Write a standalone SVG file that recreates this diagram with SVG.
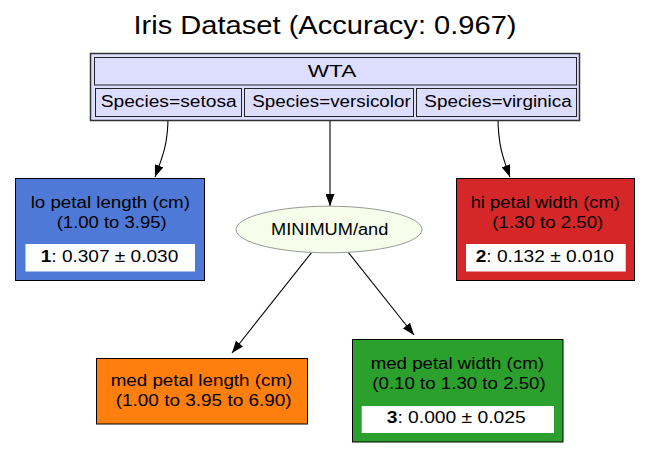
<svg xmlns="http://www.w3.org/2000/svg" width="651" height="453" viewBox="0 0 651 453">
<style>
text{font-family:"Liberation Sans",Arial,sans-serif;fill:#000}
.t{font-size:16px;text-anchor:middle}
.box{stroke:#000;stroke-width:1}
.cell{fill:#ddddff;stroke:#222;stroke-width:1}
.edge{fill:none;stroke:#000;stroke-width:1.1}
.wb{fill:#fff;stroke:none}
</style>
<defs>
<marker id="ah" markerUnits="userSpaceOnUse" markerWidth="12" markerHeight="9" refX="12" refY="4.5" orient="auto">
<path d="M0,0 L12,4.5 L0,9 z" fill="#000"/>
</marker>
</defs>
<rect x="0" y="0" width="651" height="453" fill="#fff"/>
<text x="325" y="34" style="font-size:26px;text-anchor:middle" textLength="383" lengthAdjust="spacingAndGlyphs">Iris Dataset (Accuracy: 0.967)</text>

<g id="connectors">
<path class="edge" d="M168,117 C168,145 162,158 155,177" marker-end="url(#ah)"/>
<path class="edge" d="M330,117 L330,206" marker-end="url(#ah)"/>
<path class="edge" d="M498,117 C498,145 503,158 510,177" marker-end="url(#ah)"/>
<path class="edge" d="M312,252 L232,353" marker-end="url(#ah)"/>
<path class="edge" d="M348,252 L414,335" marker-end="url(#ah)"/>
</g>

<g id="wta">
<rect x="90.5" y="53.5" width="489" height="67" fill="#ddddff" stroke="#333" stroke-width="1.5"/>
<rect class="cell" x="94.5" y="57.5" width="482" height="27.5"/>
<rect class="cell" x="95.5" y="88.5" width="146" height="28"/>
<rect class="cell" x="244.5" y="88.5" width="169" height="28"/>
<rect class="cell" x="416.5" y="88.5" width="160" height="28"/>
<text class="t" x="332" y="77" textLength="48.5" lengthAdjust="spacingAndGlyphs">WTA</text>
<text class="t" x="168.7" y="106.5" textLength="136" lengthAdjust="spacingAndGlyphs">Species=setosa</text>
<text class="t" x="331.5" y="106.5" textLength="158.4" lengthAdjust="spacingAndGlyphs">Species=versicolor</text>
<text class="t" x="498" y="106.5" textLength="147.4" lengthAdjust="spacingAndGlyphs">Species=virginica</text>
</g>

<g id="lo_petal_length">
<rect class="box" x="15.5" y="178.5" width="189" height="102" fill="#4f79d6"/>
<text class="t" x="110.3" y="207.5" textLength="159.3" lengthAdjust="spacingAndGlyphs">lo petal length (cm)</text>
<text class="t" x="111.7" y="227.5" textLength="110" lengthAdjust="spacingAndGlyphs">(1.00 to 3.95)</text>
<rect class="wb" x="25.5" y="244" width="169.5" height="27.5"/>
<text class="t" x="109.5" y="262" textLength="137.6" lengthAdjust="spacingAndGlyphs"><tspan font-weight="bold">1</tspan>: 0.307 ± 0.030</text>
</g>

<g id="hi_petal_width">
<rect class="box" x="456.5" y="178.5" width="178" height="102" fill="#d62728"/>
<text class="t" x="545.3" y="207.5" textLength="149.3" lengthAdjust="spacingAndGlyphs">hi petal width (cm)</text>
<text class="t" x="547.8" y="227.5" textLength="111" lengthAdjust="spacingAndGlyphs">(1.30 to 2.50)</text>
<rect class="wb" x="466" y="244" width="159.7" height="27.5"/>
<text class="t" x="544.8" y="262" textLength="138.3" lengthAdjust="spacingAndGlyphs"><tspan font-weight="bold">2</tspan>: 0.132 ± 0.010</text>
</g>

<g id="minimum_and">
<ellipse cx="329" cy="229.5" rx="93" ry="23.3" fill="#f6fdea" stroke="#999" stroke-width="1"/>
<text class="t" x="329.7" y="235" textLength="117.3" lengthAdjust="spacingAndGlyphs">MINIMUM/and</text>
</g>

<g id="med_petal_length">
<rect class="box" x="96.5" y="358.5" width="211" height="65.5" fill="#ff7f0e"/>
<text class="t" x="201.5" y="386" textLength="181.6" lengthAdjust="spacingAndGlyphs">med petal length (cm)</text>
<text class="t" x="203.7" y="406" textLength="176" lengthAdjust="spacingAndGlyphs">(1.00 to 3.95 to 6.90)</text>
</g>

<g id="med_petal_width">
<rect class="box" x="352.5" y="339.5" width="210.5" height="102.5" fill="#2ca02c"/>
<text class="t" x="457.3" y="368.5" textLength="173.3" lengthAdjust="spacingAndGlyphs">med petal width (cm)</text>
<text class="t" x="459" y="388.5" textLength="173.4" lengthAdjust="spacingAndGlyphs">(0.10 to 1.30 to 2.50)</text>
<rect class="wb" x="361.7" y="406" width="192.3" height="27"/>
<text class="t" x="456.2" y="423" textLength="139" lengthAdjust="spacingAndGlyphs"><tspan font-weight="bold">3</tspan>: 0.000 ± 0.025</text>
</g>
</svg>
